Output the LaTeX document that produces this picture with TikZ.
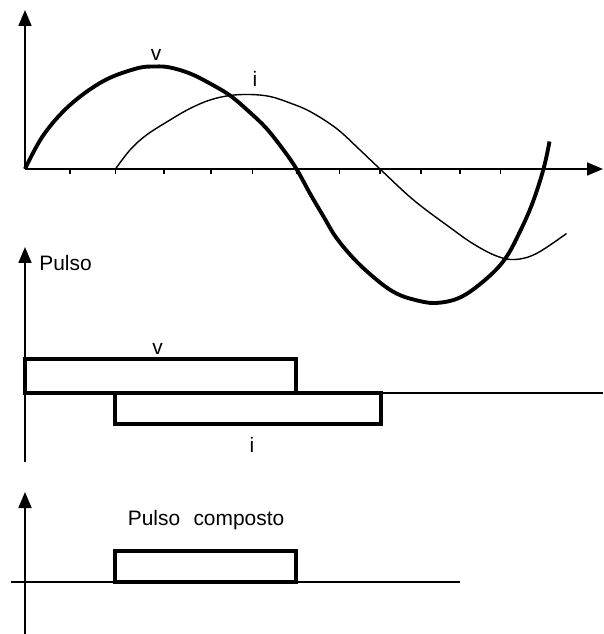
\documentclass[tikz,border=0pt]{standalone}
\usepackage{fontspec}
\setmainfont{Liberation Sans}
\usetikzlibrary{arrows.meta}
\begin{document}
\begin{tikzpicture}[
    axisline/.style={line width=1pt, -{Triangle[length=3.2mm, width=2.6mm]}},
    zeroline/.style={line width=0.85pt},
    tickmark/.style={line width=0.85pt},
    vcurve/.style={line width=2.2pt, line join=round},
    icurve/.style={line width=0.8pt, line join=round},
    pulsebox/.style={line width=1.8pt},
    lbl/.style={font=\fontsize{11.9}{14}\selectfont, inner sep=0pt}
  ]
  \useasboundingbox (-0.5,-9.30) rectangle (11.56,3.38);
  % tensao e corrente
  \draw[axisline] (0,0) -- (0,3.18);
  \draw[axisline] (0,0) -- (11.56,0);
  \foreach \t in {0.90,1.81,2.78,3.72,4.55,5.43,6.29,7.10,7.92,8.70,9.51}
    \draw[tickmark] (\t,0) -- (\t,-0.11);
  \draw[vcurve] plot[smooth, tension=0.6] coordinates {
    (0,0) (0.37,0.68) (0.90,1.28) (1.57,1.76) (2.23,2.01) (2.60,2.05)
    (2.90,2.03) (3.30,1.91) (3.70,1.71) (4.10,1.47) (4.50,1.13) (4.83,0.81)
    (5.17,0.38) (5.43,0) (5.70,-0.49) (5.97,-0.95) (6.23,-1.38) (6.63,-1.85)
    (7.10,-2.27) (7.43,-2.49) (7.77,-2.61) (8.20,-2.68) (8.70,-2.57)
    (9.20,-2.22) (9.60,-1.80) (9.90,-1.25) (10.15,-0.68) (10.37,0) (10.49,0.55)};
  \draw[icurve] plot[smooth, tension=0.6] coordinates {
    (1.81,0) (2.10,0.38) (2.43,0.68) (2.90,0.98) (3.30,1.21) (3.70,1.38)
    (4.10,1.47) (4.50,1.49) (4.90,1.45) (5.30,1.32) (5.70,1.15) (6.23,0.81)
    (6.70,0.38) (7.10,0) (7.77,-0.62) (8.50,-1.17) (8.97,-1.50) (9.43,-1.74)
    (9.80,-1.81) (10.23,-1.69) (10.83,-1.29)};
  \node[lbl] (vtop) at (2.62,2.28) {v};
  \node[lbl] (itop) at (4.60,1.80) {i};
  % pulsos v e i
  \draw[axisline] (0,-5.86) -- (0,-1.56);
  \node[lbl, anchor=base west] (pulsolbl) at (0.28,-2.04) {Pulso};
  \draw[zeroline] (0,-4.48) -- (11.56,-4.48);
  \draw[pulsebox] (0,-4.48) rectangle (5.42,-3.80);
  \draw[pulsebox] (1.80,-5.10) rectangle (7.12,-4.48);
  \node[lbl] (vmid) at (2.65,-3.60) {v};
  \node[lbl] (imid) at (4.54,-5.52) {i};
  % pulso composto
  \draw[axisline] (0,-9.30) -- (0,-6.46);
  \draw[zeroline] (-0.28,-8.26) -- (8.70,-8.26);
  \draw[pulsebox] (1.80,-8.26) rectangle (5.42,-7.64);
  \node[lbl, anchor=base west] (compostolbl) at (2.05,-7.12) {Pulso\hspace{0.64em}composto};
\end{tikzpicture}
\end{document}
